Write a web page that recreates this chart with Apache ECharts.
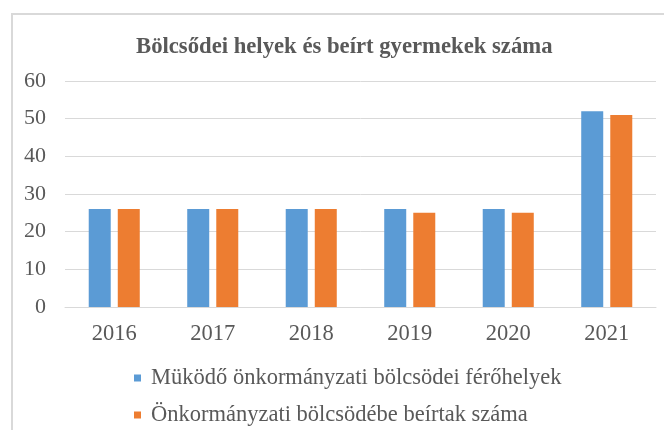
<!DOCTYPE html>
<html>
<head>
<meta charset="utf-8">
<script src="https://cdn.jsdelivr.net/npm/echarts@6/dist/echarts.min.js"></script>
<style>
  html, body { margin: 0; padding: 0; background: #fff; }
  #chart { width: 664px; height: 430px; }
</style>
</head>
<body>
<div id="chart"></div>
<script>
// Years on the category axis
const years = ['2016', '2017', '2018', '2019', '2020', '2021'];
// Operating municipal nursery places
const places = [26, 26, 26, 26, 26, 52];
// Children enrolled in municipal nurseries
const enrolled = [26, 26, 26, 25, 25, 51];

const seriesNames = [
  'Müködő önkormányzati bölcsödei férőhelyek',
  'Önkormányzati bölcsödébe beírtak száma'
];

const SERIF = '"Liberation Serif", "Times New Roman", serif';
const TEXT = '#595959';

const chart = echarts.init(document.getElementById('chart'), null, { renderer: 'canvas' });
chart.setOption({
  animation: false,
  backgroundColor: '#fff',
  graphic: [{
    type: 'rect',
    shape: { x: 12, y: 14, width: 700, height: 500 },
    style: { fill: 'none', stroke: '#d9d9d9', lineWidth: 2 },
    silent: true
  }],
  title: {
    text: 'Bölcsődei helyek és beírt gyermekek száma',
    left: 131,
    top: 31,
    textStyle: { fontFamily: SERIF, fontSize: 22.7, fontWeight: 'bold', color: TEXT }
  },
  legend: {
    orient: 'vertical',
    left: 134,
    top: 366,
    height: 64,
    padding: 0,
    itemWidth: 7,
    itemHeight: 7,
    itemGap: 13,
    icon: 'rect',
    textStyle: { fontFamily: SERIF, fontSize: 22.5, color: TEXT, lineHeight: 24, padding: [0, 0, 0, 5] },
    data: seriesNames
  },
  grid: { left: 65, right: 8, top: 81, bottom: 123, containLabel: false },
  xAxis: {
    type: 'category',
    data: years,
    axisLine: { lineStyle: { color: '#d9d9d9' } },
    axisTick: { show: false },
    axisLabel: { fontFamily: SERIF, fontSize: 22.5, color: TEXT, margin: 16 }
  },
  yAxis: {
    type: 'value',
    min: 0,
    max: 60,
    interval: 10,
    axisLine: { show: false },
    axisTick: { show: false },
    splitLine: { lineStyle: { color: '#d9d9d9' } },
    axisLabel: { fontFamily: SERIF, fontSize: 22, color: TEXT, margin: 19 }
  },
  series: [
    {
      name: seriesNames[0],
      type: 'bar',
      data: places,
      barWidth: 22,
      barGap: '32%',
      itemStyle: { color: '#5B9BD5' }
    },
    {
      name: seriesNames[1],
      type: 'bar',
      data: enrolled,
      barWidth: 22,
      itemStyle: { color: '#ED7D31' }
    }
  ]
});
</script>
</body>
</html>
